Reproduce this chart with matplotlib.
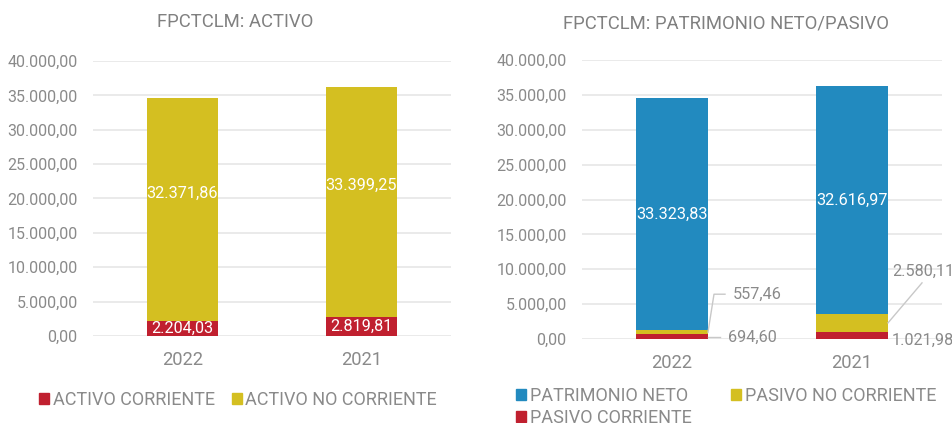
import matplotlib
matplotlib.use("Agg")
import matplotlib.pyplot as plt
from matplotlib.patches import Patch
from matplotlib.lines import Line2D
from matplotlib.ticker import FuncFormatter, MultipleLocator

plt.rcParams['font.family'] = ['Roboto', 'DejaVu Sans']

# ---- data ----
years = ["2022", "2021"]
activo_corriente = [2204.03, 2819.81]
activo_no_corriente = [32371.86, 33399.25]
patrimonio_neto = [33323.83, 32616.97]
pasivo_no_corriente = [557.46, 2580.11]
pasivo_corriente = [694.60, 1021.98]

RED = "#C0202F"
YELLOW = "#D4BF21"
BLUE = "#228ABF"
GRID = "#E6E6E6"
TXT = "#8A8A8A"
TITLE = "#808080"


def es(v):
    s = f"{v:,.2f}"
    return s.replace(",", "X").replace(".", ",").replace("X", ".")


W, H = 953, 423
fig = plt.figure(figsize=(W / 100, H / 100), dpi=100)

axL = fig.add_axes([93 / W, 1 - 336 / H, 358 / W, 275 / H])
axR = fig.add_axes([582 / W, 1 - 339 / H, 360 / W, 279 / H])

x = list(range(len(years)))
bw = 0.4

for ax in (axL, axR):
    ax.set_xlim(-0.5, 1.5)
    ax.set_ylim(0, 40000)
    ax.yaxis.set_major_locator(MultipleLocator(5000))
    ax.yaxis.set_major_formatter(FuncFormatter(lambda v, p: es(v)))
    ax.grid(axis="y", color=GRID, lw=1.2, zorder=0)
    ax.set_axisbelow(True)
    for s in ax.spines.values():
        s.set_visible(False)
    ax.tick_params(axis="both", length=0, colors=TXT)
    ax.tick_params(axis="y", labelsize=11.5, pad=11)
    ax.tick_params(axis="x", labelsize=13.2, pad=11)
    ax.set_xticks(x)
    ax.set_xticklabels(years)

# ---- left chart ----
axL.bar(x, activo_corriente, bw, color=RED, zorder=2)
axL.bar(x, activo_no_corriente, bw, bottom=activo_corriente, color=YELLOW, zorder=2)
for i in x:
    axL.text(i, activo_corriente[i] / 2, es(activo_corriente[i]), ha="center", va="center",
             color="white", fontsize=11.7, zorder=3)
    axL.annotate(es(activo_no_corriente[i]),
                 xy=(i, activo_corriente[i] + activo_no_corriente[i] / 2),
                 xytext=(0, 12), textcoords="offset points", ha="center", va="center",
                 color="white", fontsize=11.7, zorder=3)

# ---- right chart ----
axR.bar(x, pasivo_corriente, bw, color=RED, zorder=2)
b2 = [pasivo_corriente[i] for i in x]
axR.bar(x, pasivo_no_corriente, bw, bottom=b2, color=YELLOW, zorder=2)
b3 = [pasivo_corriente[i] + pasivo_no_corriente[i] for i in x]
axR.bar(x, patrimonio_neto, bw, bottom=b3, color=BLUE, zorder=2)
for i in x:
    axR.text(i, b3[i] + patrimonio_neto[i] / 2, es(patrimonio_neto[i]), ha="center", va="center",
             color="white", fontsize=11.7, zorder=3)

inv = fig.transFigure.inverted()


def leader(ax, xy, pts, text, tdx, tdy):
    p = ax.transData.transform(xy)
    line_pts = [inv.transform((p[0] + dx, p[1] + dy)) for dx, dy in pts]
    if len(line_pts) > 1:
        fig.add_artist(Line2D([q[0] for q in line_pts], [q[1] for q in line_pts],
                              transform=fig.transFigure, color="#C8C8C8", lw=1))
    tp = inv.transform((p[0] + tdx, p[1] + tdy))
    fig.text(tp[0], tp[1], text, ha="left", va="center", color=TXT, fontsize=11.7)


# 2022 pasivo no corriente
i = 0
leader(axR, (i + bw / 2, pasivo_corriente[i] + pasivo_no_corriente[i] / 2),
       [(0, 0), (6, 38), (17, 38)], es(pasivo_no_corriente[i]), 25, 38)
# 2022 pasivo corriente
leader(axR, (i + bw / 2, pasivo_corriente[i] / 2),
       [(0, 0), (12, 0)], es(pasivo_corriente[i]), 20, -1)
# 2021 pasivo no corriente
i = 1
leader(axR, (i + bw / 2, pasivo_corriente[i] + pasivo_no_corriente[i] / 2),
       [(0, 0), (34, 40)], es(pasivo_no_corriente[i]), 4, 52)
# 2021 pasivo corriente
leader(axR, (i + bw / 2, pasivo_corriente[i] / 2),
       [(0, 0)], es(pasivo_corriente[i]), 4, -5)

# ---- titles ----
fig.text(235 / W, 1 - 22 / H, "FPCTCLM: ACTIVO", ha="center", va="center",
         color=TITLE, fontsize=13.3)
fig.text(726 / W, 1 - 23 / H, "FPCTCLM: PATRIMONIO NETO/PASIVO", ha="center", va="center",
         color=TITLE, fontsize=13.3)

# ---- legends ----
hL = [Patch(color=RED), Patch(color=YELLOW)]
fig.legend(hL, ["ACTIVO CORRIENTE", "ACTIVO NO CORRIENTE"], loc="center",
           bbox_to_anchor=(238 / W, 1 - 400 / H), ncol=2, frameon=False,
           fontsize=13.0, labelcolor=TXT, handlelength=0.55, handleheight=0.55,
           handletextpad=0.2, columnspacing=0.95, borderpad=0, borderaxespad=0)

hR = [Patch(color=BLUE), Patch(color=RED), Patch(color=YELLOW)]
fig.legend(hR, ["PATRIMONIO NETO", "PASIVO CORRIENTE", "PASIVO NO CORRIENTE"],
           loc="upper left", bbox_to_anchor=(516 / W, 1 - 387 / H), ncol=2, frameon=False,
           fontsize=13.0, labelcolor=TXT, handlelength=0.55, handleheight=0.55,
           handletextpad=0.2, columnspacing=2.2, labelspacing=0.2,
           borderpad=0, borderaxespad=0)

fig.savefig("out.png", dpi=100)
